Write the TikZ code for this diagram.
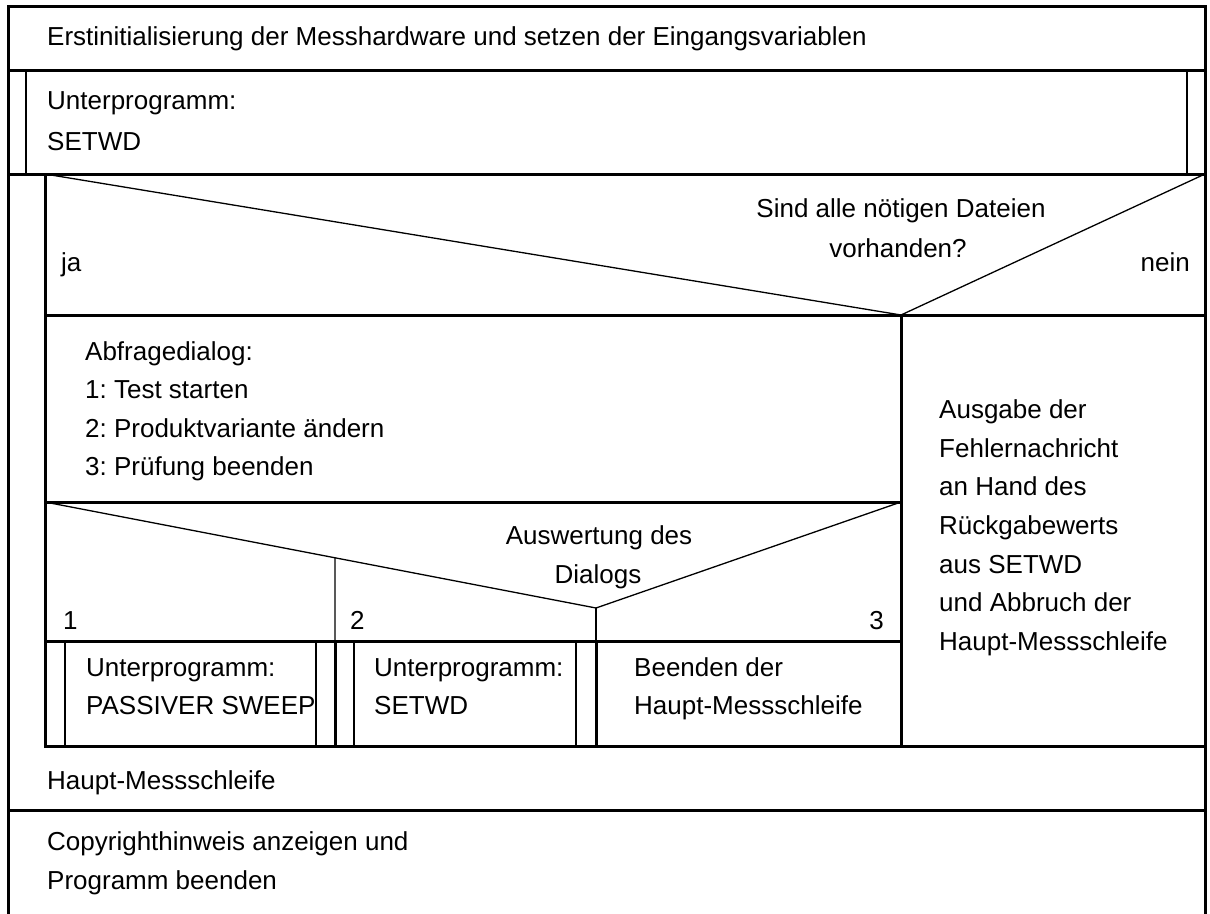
\documentclass[tikz,border=0pt]{standalone}
\usepackage{fontspec}
\setmainfont{Liberation Sans}
\frenchspacing
\usepackage{tikz}
\usetikzlibrary{calc}
\usetikzlibrary{positioning}
\tikzstyle{frame} = [line width=3pt, line cap=rect]
\tikzstyle{fine} = [line width=1.3pt]
\tikzstyle{lbl} = [anchor=base west, inner sep=0pt, font=\fontsize{26}{31}\selectfont]
\tikzstyle{lblc} = [lbl, anchor=base]
\tikzstyle{lble} = [lbl, anchor=base east]

\begin{document}
\begin{tikzpicture}[x=1pt, y=-1pt]
\useasboundingbox (0,0) rectangle (1210,913);
\coordinate (TL) at (8,6);
\coordinate (TR) at (1205,6);
\coordinate (BL) at (8,913);
\coordinate (BR) at (1205,913);
\coordinate (Q1) at (901,315);
\coordinate (Q2) at (596,608);
\path (45,502) -- (Q2) coordinate [pos=0.5263] (S2);
\draw [fine] (26,70) -- (26,174);
\draw [fine] (1187,70) -- (1187,174);
\draw [fine] (45,174) -- (Q1) -- (1205,174);
\draw [fine] (45,502) -- (Q2) -- (901,502);
\draw [fine] (S2) -- (335,641);
\draw [fine] (Q2) -- (596,641);
\draw [fine] (65,641) -- (65,746);
\draw [fine] (316,641) -- (316,746);
\draw [fine] (354,641) -- (354,746);
\draw [fine] (576,641) -- (576,746);
\draw [frame] (BL) -- (TL) -- (TR) -- (BR);
\draw [frame] (8,70) -- (1205,70);
\draw [frame] (8,174) -- (1205,174);
\draw [frame] (45,174) -- (45,746);
\draw [frame] (45,315) -- (1205,315);
\draw [frame] (Q1) -- (901,746);
\draw [frame] (45,502) -- (901,502);
\draw [frame] (45,641) -- (901,641);
\draw [frame] (335,641) -- (335,746);
\draw [frame] (596,641) -- (596,746);
\draw [frame] (45,746) -- (1205,746);
\draw [frame] (8,810) -- (1205,810);
\node [lbl] (init) at (47,45) {Erstinitialisierung der Messhardware und setzen der Eingangsvariablen};
\node [lbl] (up1) at (47,109) {Unterprogramm:};
\node [lbl] (up1n) at (47,150) {SETWD};
\node [lblc] (frage1) at (901,217) {Sind alle nötigen Dateien};
\node [lblc] (frage2) at (898,257) {vorhanden?};
\node [lbl] (ja) at (61,271) {ja};
\node [lble] (nein) at (1190,271) {nein};
\node [lbl] (dlg0) at (85,360) {Abfragedialog:};
\node [lbl] (dlg1) at (85,398) {1: Test starten};
\node [lbl] (dlg2) at (85,437) {2: Produktvariante ändern};
\node [lbl] (dlg3) at (85,475) {3: Prüfung beenden};
\node [lblc] (ausw1) at (599,544) {Auswertung des};
\node [lblc] (ausw2) at (598,583) {Dialogs};
\node [lbl] (c1) at (63,629) {1};
\node [lbl] (c2) at (350,629) {2};
\node [lble] (c3) at (884,629) {3};
\node [lbl] (sw1) at (86,676) {Unterprogramm:};
\node [lbl] (sw2) at (86,714) {PASSIVER SWEEP};
\node [lbl] (st1) at (374,676) {Unterprogramm:};
\node [lbl] (st2) at (374,714) {SETWD};
\node [lbl] (end1) at (634,676) {Beenden der};
\node [lbl] (end2) at (634,714) {Haupt-Messschleife};
\node [lbl] (err1) at (939,418) {Ausgabe der};
\node [lbl] (err2) at (939,457) {Fehlernachricht};
\node [lbl] (err3) at (939,495) {an Hand des};
\node [lbl] (err4) at (939,534) {Rückgabewerts};
\node [lbl] (err5) at (939,573) {aus SETWD};
\node [lbl] (err6) at (939,611) {und Abbruch der};
\node [lbl] (err7) at (939,650) {Haupt-Messschleife};
\node [lbl] (loop) at (47,789) {Haupt-Messschleife};
\node [lbl] (copy1) at (47,850) {Copyrighthinweis anzeigen und};
\node [lbl] (copy2) at (47,889) {Programm beenden};
\end{tikzpicture}
\end{document}
